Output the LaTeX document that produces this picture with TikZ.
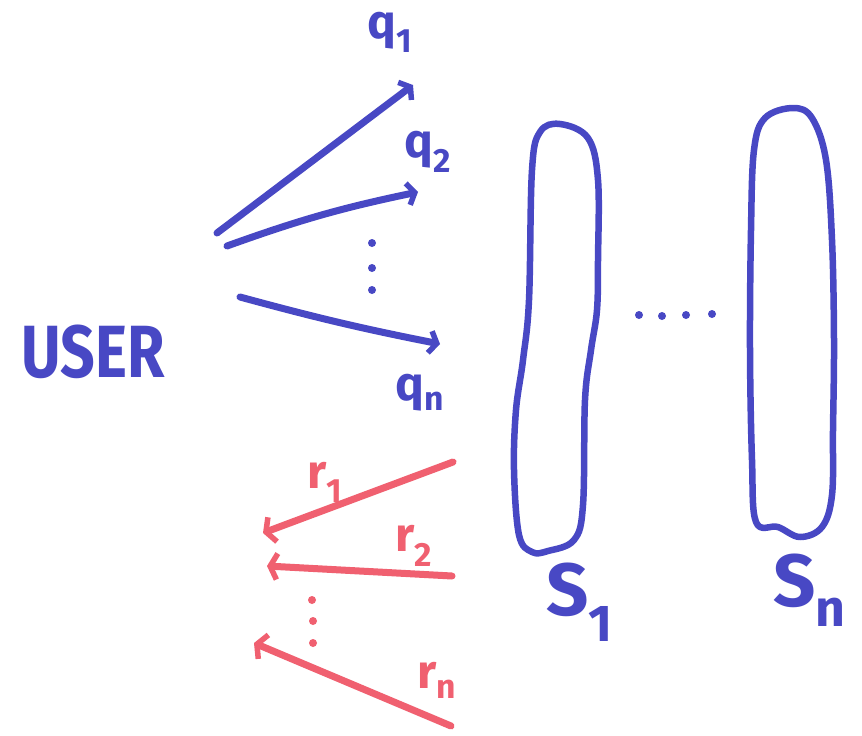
\documentclass[tikz,border=0pt]{standalone}
\usepackage{fontspec}
\setmainfont{Fira Sans}
\usetikzlibrary{arrows.meta}
\definecolor{penblue}{RGB}{72,72,196}
\definecolor{penred}{RGB}{240,96,112}
\tikzset{
  bluepen/.style={draw=penblue, line width=7pt, line cap=round, line join=round},
  redpen/.style={draw=penred, line width=7pt, line cap=round, line join=round},
  qarrow/.style={bluepen, -{Straight Barb[length=7pt,width=22pt,line width=5.5pt]}},
  rarrow/.style={redpen, -{Straight Barb[length=7pt,width=26pt,line width=5.5pt]}},
  bluetext/.style={text=penblue, font=\fontsize{48}{52}\selectfont\bfseries, inner sep=0pt},
  redtext/.style={text=penred, font=\fontsize{48}{52}\selectfont\bfseries, inner sep=0pt},
  bigtext/.style={text=penblue, font=\fontsize{74}{78}\selectfont\bfseries, inner sep=0pt},
  bluedot/.style={fill=penblue, draw=none, circle, minimum size=8pt, inner sep=0pt},
  reddot/.style={fill=penred, draw=none, circle, minimum size=8pt, inner sep=0pt},
}
\begin{document}
\begin{tikzpicture}[x=1pt,y=-1pt]
\useasboundingbox (0,0) rectangle (862,736);
\fill[white] (0,0) rectangle (862,736);

% USER
\node[bigtext, xscale=0.82] (user) at (93,352) {USER};

% query arrows
\coordinate (q1s) at (217,233);
\coordinate (q1e) at (413,85);
\coordinate (q2s) at (227,246);
\coordinate (q2e) at (418,192);
\coordinate (qns) at (240,297);
\coordinate (qne) at (440,344);
\draw[qarrow] (q1s) -- (q1e);
\draw[qarrow] (q2s) to[bend left=4] (q2e);
\draw[qarrow] (qns) to[bend right=2] (qne);

\node[bluetext] (lq1) at (390,32) {q\textsubscript{1}};
\node[bluetext] (lq2) at (428,152) {q\textsubscript{2}};
\node[bluetext] (lqn) at (420,393) {q\textsubscript{n}};

\node[bluedot] (bd1) at (372,243) {};
\node[bluedot] (bd2) at (372,268) {};
\node[bluedot] (bd3) at (372,290) {};

% response arrows
\coordinate (r1s) at (453,462);
\coordinate (r1e) at (263,533);
\coordinate (r2s) at (452,576);
\coordinate (r2e) at (267,566);
\coordinate (rns) at (451,726);
\coordinate (rne) at (254,643);
\draw[rarrow] (r1s) -- (r1e);
\draw[rarrow] (r2s) -- (r2e);
\draw[rarrow] (rns) -- (rne);

\node[redtext] (lr1) at (325,482) {r\textsubscript{1}};
\node[redtext] (lr2) at (414,546) {r\textsubscript{2}};
\node[redtext] (lrn) at (437,680) {r\textsubscript{n}};

\node[reddot] (rd1) at (312,600) {};
\node[reddot] (rd2) at (313,621) {};
\node[reddot] (rd3) at (313,643) {};

% servers
\draw[bluepen, line width=6.5pt] plot[smooth cycle, tension=0.6] coordinates {
  (560,124) (588,138) (598,180) (598,260) (597,310) (591,350) (585,400)
  (583,505) (574,540) (548,551) (532,552) (519,535) (514,470) (516,410)
  (523,360) (529,300) (532,170) (540,132)};
\draw[bluepen, line width=6.5pt] plot[smooth cycle, tension=0.6] coordinates {
  (793,108) (812,118) (826,160) (832,240) (834,340) (833,430) (832,495)
  (822,527) (800,537) (778,527) (756,522) (752,460) (750,350) (751,230)
  (754,150) (765,118)};

\node[bigtext] (ls1) at (580,602) {S\textsubscript{1}};
\node[bigtext] (lsn) at (810,590) {S\textsubscript{n}};

\node[bluedot] (hd1) at (639,315) {};
\node[bluedot] (hd2) at (662,316) {};
\node[bluedot] (hd3) at (686,315) {};
\node[bluedot] (hd4) at (712,314) {};
\end{tikzpicture}
\end{document}
